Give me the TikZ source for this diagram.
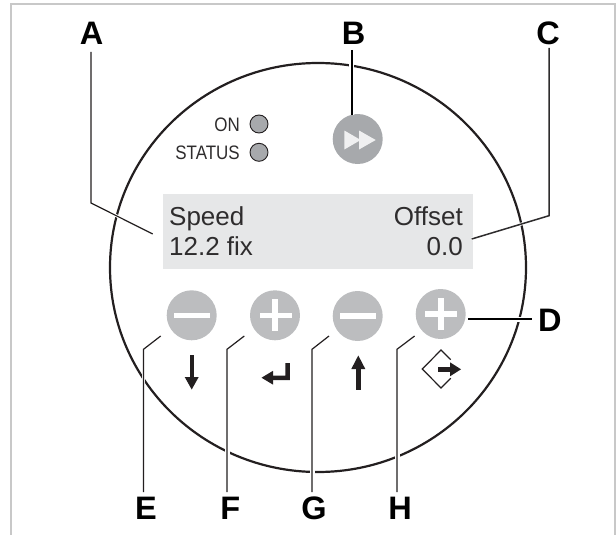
\documentclass[tikz,border=0pt]{standalone}
\usepackage{fontspec}
\usepackage{graphicx}
\setmainfont{Liberation Sans}
\definecolor{ink}{HTML}{231F20}
\definecolor{soft}{HTML}{2E2C2D}
\definecolor{framegray}{HTML}{C8C8C8}
\definecolor{panelgray}{HTML}{E6E7E8}
\definecolor{arrowwhite}{HTML}{F0F0F1}
\definecolor{keygray}{HTML}{BCBDBF}
\definecolor{ledgray}{HTML}{A7A9AC}
\tikzset{
  letter/.style={font=\fontsize{32.5}{32.5}\selectfont\bfseries,inner sep=0pt,text=black},
  paneltext/.style={font=\fontsize{26}{26}\selectfont,inner sep=0pt,text=soft},
  ledtext/.style={font=\fontsize{19.5}{19.5}\selectfont,inner sep=0pt,text=soft,anchor=base east},
  key/.style={circle,fill=keygray,minimum size=50pt,inner sep=0pt},
  led/.style={circle,draw=ink,line width=0.9pt,fill=ledgray,minimum size=18pt,inner sep=0pt},
  leader/.style={line width=1.2pt,draw=ink,line join=miter},
  halo/.style={line width=5pt,draw=white},
  barmark/.style={fill=white,draw=none},
  icon/.style={fill=ink,draw=none},
}
\begin{document}
\begin{tikzpicture}[x=1pt,y=-1pt]
\useasboundingbox (0,0) rectangle (616,535);
% frame
\draw[framegray,line width=2.6pt] (11,535) -- (11,4) -- (615,4) -- (615,535);
% housing
\draw[ink,line width=2.2pt] (318,267.5) ellipse [x radius=208,y radius=204.5];
% display
\node[fill=panelgray,minimum width=310pt,minimum height=75pt,inner sep=0pt] (display) at (318,231.5) {};
\node[paneltext,anchor=base west] (speed) at (169,225) {Speed};
\node[paneltext,anchor=base west] (speedval) at (169,255) {12.2 fix};
\node[paneltext,anchor=base east] (offset) at (463,225) {Offset};
\node[paneltext,anchor=base east] (offsetval) at (463,255) {0.0};
% LEDs
\node[led] (on) at (259,124) {};
\node[led] (status) at (259,152.3) {};
\node[ledtext] (ontext) at (240,131) {\scalebox{.87}[1]{ON}};
\node[ledtext] (statustext) at (240,159.3) {\scalebox{.87}[1]{STATUS}};
% forward key
\node[circle,fill=ledgray,minimum size=50pt,inner sep=0pt] (ff) at (357.7,139) {};
\fill[arrowwhite] (344.3,130.5) -- (360.7,140) -- (344.3,149.5) -- cycle;
\fill[arrowwhite] (359,130.5) -- (375.7,140) -- (359,149.5) -- cycle;
% keys
\node[key] (k1) at (191.7,315.3) {};
\node[key] (k2) at (275,315.3) {};
\node[key] (k3) at (357.7,316) {};
\node[key] (k4) at (440.7,314) {};
\fill[barmark] (173.7,312.5) rectangle (209.7,318.1);
\fill[barmark] (339.7,313.2) rectangle (375.7,318.8);
\fill[barmark] (259.5,312.5) rectangle (291.5,318.1);
\fill[barmark] (272.2,299.3) rectangle (277.8,331.3);
\fill[barmark] (425,311.2) rectangle (457,316.8);
\fill[barmark] (438,298.2) rectangle (443.6,330.2);
% icons
\fill[icon] (189.6,355) rectangle (194,378);
\fill[icon] (184.7,377) -- (198.7,377) -- (191.7,389.5) -- cycle;
\fill[icon] (261.5,377.7) -- (273,370.8) -- (273,384.6) -- cycle;
\fill[icon] (272,375.6) -- (285.4,375.6) -- (285.4,363) -- (289.8,363) -- (289.8,380) -- (272,380) -- cycle;
\fill[icon] (356.1,367) rectangle (360.5,390);
\fill[icon] (351.3,369) -- (365.3,369) -- (358.3,355.5) -- cycle;
\draw[ink,line width=1.2pt] (450.7,359.6) -- (441,350) -- (422.3,369) -- (441,388) -- (450.7,378.2);
\fill[icon] (438.3,367.1) rectangle (451,371.5);
\fill[icon] (450,362.3) -- (461,369.3) -- (450,376.3) -- cycle;
% labels
\node[letter] (A) at (91.7,33.5) {A};
\node[letter] (B) at (353.6,33.5) {B};
\node[letter] (C) at (548,33.5) {C};
\node[letter,anchor=west] (D) at (538,320.5) {D};
\node[letter] (E) at (146,508.5) {E};
\node[letter] (F) at (230.4,508.5) {F};
\node[letter] (G) at (314,508.5) {G};
\node[letter] (H) at (400,508.5) {H};
% leader points
\coordinate (a0) at (91,52);   \coordinate (a1) at (91,203);  \coordinate (a2) at (152.7,234);
\coordinate (b0) at (351.7,50);\coordinate (b1) at (351.7,115);
\coordinate (c0) at (549,48);  \coordinate (c1) at (549,215.7);\coordinate (c2) at (471.7,239);
\coordinate (d0) at (531.7,319);\coordinate (d1) at (468.3,319);
\coordinate (e0) at (143.5,492);\coordinate (e1) at (143.5,349.3);\coordinate (e2) at (160.7,336);
\coordinate (f0) at (227,492); \coordinate (f1) at (227,349.3);\coordinate (f2) at (244.3,336);
\coordinate (g0) at (312,492); \coordinate (g1) at (312,349.3);\coordinate (g2) at (329,336);
\coordinate (h0) at (397,492); \coordinate (h1) at (397,349.3);\coordinate (h2) at (414.6,336);
% halos
\draw[halo,line width=3pt] (a1) -- (a2);
\draw[halo] (b0) -- (b1);
\draw[halo,line width=3pt] (c1) -- (c2);
\draw[halo] (d0) -- (d1);
\draw[halo,line width=3pt] (e0) -- (e1);
\draw[halo] (f0) -- (f1);
\draw[halo] (g0) -- (g1);
\draw[halo] (h0) -- (h1);
% leaders
\draw[leader] (a0) -- (a1) -- (a2);
\draw[leader,line width=2pt,draw=black] (b0) -- (b1);
\draw[leader,line width=1.5pt,draw=soft] (c0) -- (c1) -- (c2);
\draw[leader,line width=2pt,draw=black] (d0) -- (d1);
\draw[leader] (e0) -- (e1) -- (e2);
\draw[leader] (f0) -- (f1) -- (f2);
\draw[leader] (g0) -- (g1) -- (g2);
\draw[leader] (h0) -- (h1) -- (h2);
\end{tikzpicture}
\end{document}
